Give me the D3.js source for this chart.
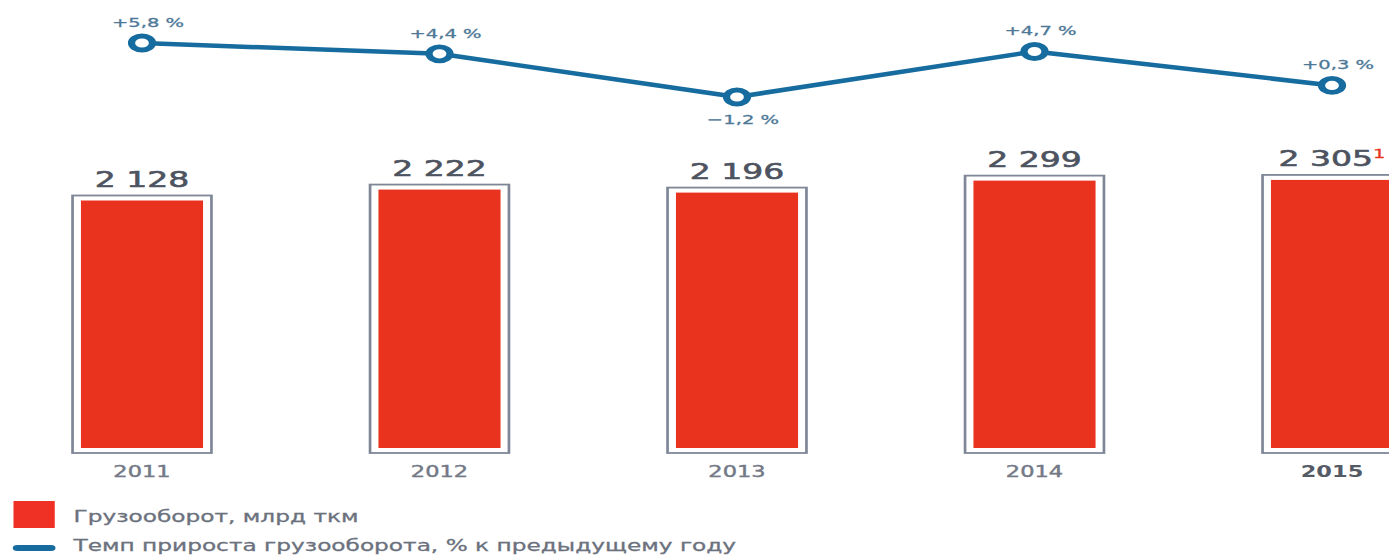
<!DOCTYPE html>
<html>
<head>
<meta charset="utf-8">
<script src="https://cdn.jsdelivr.net/npm/d3@7"></script>
<style>
  html, body { margin: 0; padding: 0; background: #fff; }
  svg { display: block; font-family: "DejaVu Sans", sans-serif; }
</style>
</head>
<body>
<svg id="chart" width="1389" height="555"></svg>
<script>
const years = ["2011", "2012", "2013", "2014", "2015"];
const freight = [2128, 2222, 2196, 2299, 2305];
const growth = [5.8, 4.4, -1.2, 4.7, 0.3];
const growthLabels = ["+5,8 %", "+4,4 %", "\u22121,2 %", "+4,7 %", "+0,3 %"];
const valueLabels = ["2 128", "2 222", "2 196", "2 299", "2 305"];
const footnotes = ["", "", "", "", "1"];
const legendLabels = ["Грузооборот, млрд ткм", "Темп прироста грузооборота, % к предыдущему году"];

const SX = 1.5; // the picture is stretched horizontally
const RED = "#e9331f", BLUE = "#176c9f", GRAY = "#7f8797";

const svg = d3.select("#chart");
const g = svg.append("g").attr("transform", `scale(${SX},1)`);

const x = d3.scalePoint().domain(years).range([142 / SX, 1332 / SX]);
const y = d3.scaleLinear().domain([0, 3852]).range([448, 0]);
const yl = d3.scaleLinear().domain([-1.2, 5.8]).range([97, 43]);

const innerHalf = 40.7, outerHalf = 46.3, bottom = 448;

// outer outlines
g.selectAll("rect.outer").data(years).join("rect")
  .attr("class", "outer")
  .attr("x", d => x(d) - outerHalf)
  .attr("y", (d, i) => y(freight[i]) - 5)
  .attr("width", outerHalf * 2)
  .attr("height", (d, i) => bottom + 5 - (y(freight[i]) - 5))
  .attr("fill", "#fff").attr("stroke", GRAY).attr("stroke-width", 1.8);

// red bars
g.selectAll("rect.bar").data(years).join("rect")
  .attr("class", "bar")
  .attr("x", d => x(d) - innerHalf)
  .attr("y", (d, i) => y(freight[i]))
  .attr("width", innerHalf * 2)
  .attr("height", (d, i) => bottom - y(freight[i]))
  .attr("fill", RED);

// value labels
const vl = g.selectAll("text.val").data(years).join("text")
  .attr("class", "val")
  .attr("x", d => x(d))
  .attr("y", (d, i) => y(freight[i]) - 14)
  .attr("text-anchor", "middle")
  .attr("font-size", 22)
  .attr("fill", "#4d535f")
  .attr("stroke", "#4d535f").attr("stroke-width", 0.6);
vl.append("tspan").text((d, i) => valueLabels[i]);
vl.append("tspan").text((d, i) => footnotes[i])
  .attr("font-size", 13).attr("dy", -8).attr("fill", RED).attr("stroke", RED).attr("stroke-width", 0.3);

// year labels
g.selectAll("text.year").data(years).join("text")
  .attr("class", "year")
  .attr("x", d => x(d))
  .attr("y", 477)
  .attr("text-anchor", "middle")
  .attr("font-size", 15)
  .attr("font-weight", (d, i) => i === years.length - 1 ? "bold" : "normal")
  .attr("fill", (d, i) => i === years.length - 1 ? "#555b66" : "#737987")
  .attr("stroke", (d, i) => i === years.length - 1 ? "none" : "#737987")
  .attr("stroke-width", 0.4)
  .text(d => d);

// growth line
const line = d3.line().x((d, i) => x(years[i])).y(d => yl(d));
g.append("path").datum(growth)
  .attr("d", line)
  .attr("fill", "none").attr("stroke", BLUE).attr("stroke-width", 4.5)
  .attr("stroke-linejoin", "round");

g.selectAll("circle.pt").data(growth).join("circle")
  .attr("class", "pt")
  .attr("cx", (d, i) => x(years[i]))
  .attr("cy", d => yl(d))
  .attr("r", 7)
  .attr("fill", "#fff").attr("stroke", BLUE).attr("stroke-width", 4.8);

g.selectAll("text.pct").data(growth).join("text")
  .attr("class", "pct")
  .attr("x", (d, i) => x(years[i]) + 4)
  .attr("y", d => d < 0 ? yl(d) + 27 : yl(d) - 16)
  .attr("text-anchor", "middle")
  .attr("font-size", 13)
  .attr("fill", "#4d7897")
  .attr("stroke", "#4d7897").attr("stroke-width", 0.3)
  .text((d, i) => growthLabels[i]);

// legend
g.append("rect")
  .attr("x", 9).attr("y", 501).attr("width", 27.5).attr("height", 27)
  .attr("fill", "#ee3124");
g.append("line")
  .attr("x1", 11.5).attr("x2", 34).attr("y1", 548).attr("y2", 548)
  .attr("stroke", BLUE).attr("stroke-width", 6).attr("stroke-linecap", "round");
g.selectAll("text.leg").data(legendLabels).join("text")
  .attr("class", "leg")
  .attr("x", 49)
  .attr("y", (d, i) => i === 0 ? 522 : 551)
  .attr("font-size", 15.5)
  .attr("fill", "#6b717d")
  .attr("stroke", "#6b717d").attr("stroke-width", 0.3)
  .text(d => d);
</script>
</body>
</html>
